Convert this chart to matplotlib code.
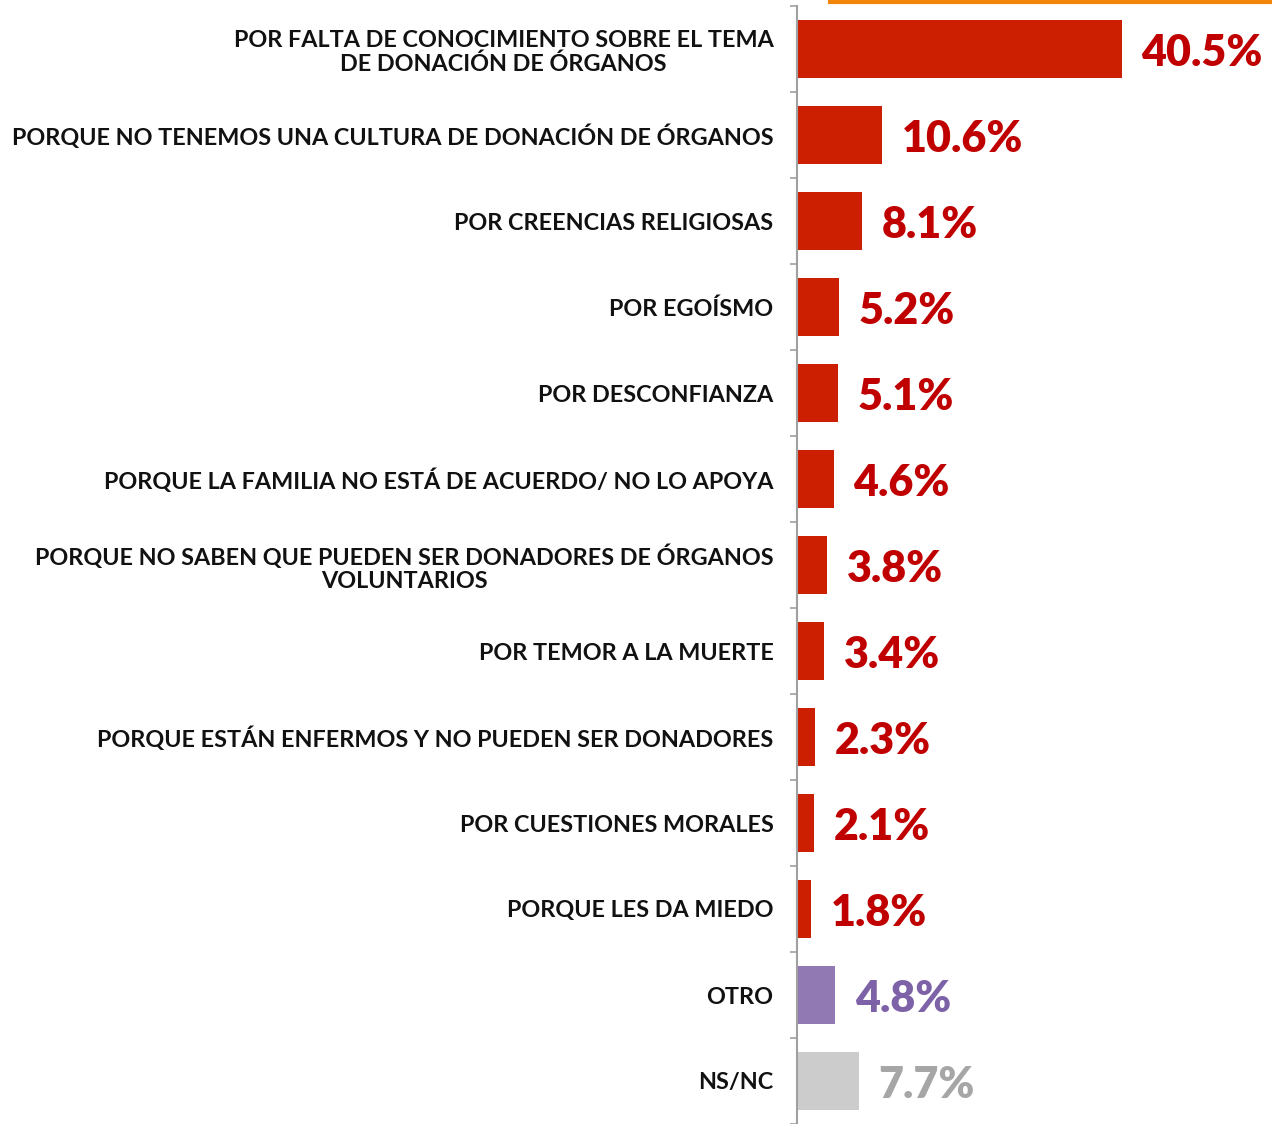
import matplotlib
matplotlib.use("Agg")
import matplotlib.pyplot as plt
from matplotlib.lines import Line2D
import numpy as np

categories = [
    "POR FALTA DE CONOCIMIENTO SOBRE EL TEMA\nDE DONACIÓN DE ÓRGANOS",
    "PORQUE NO TENEMOS UNA CULTURA DE DONACIÓN DE ÓRGANOS",
    "POR CREENCIAS RELIGIOSAS",
    "POR EGOÍSMO",
    "POR DESCONFIANZA",
    "PORQUE LA FAMILIA NO ESTÁ DE ACUERDO/ NO LO APOYA",
    "PORQUE NO SABEN QUE PUEDEN SER DONADORES DE ÓRGANOS\nVOLUNTARIOS",
    "POR TEMOR A LA MUERTE",
    "PORQUE ESTÁN ENFERMOS Y NO PUEDEN SER DONADORES",
    "POR CUESTIONES MORALES",
    "PORQUE LES DA MIEDO",
    "OTRO",
    "NS/NC",
]
values = [40.5, 10.6, 8.1, 5.2, 5.1, 4.6, 3.8, 3.4, 2.3, 2.1, 1.8, 4.8, 7.7]
value_labels = ["40.5%", "10.6%", "8.1%", "5.2%", "5.1%", "4.6%", "3.8%",
                "3.4%", "2.3%", "2.1%", "1.8%", "4.8%", "7.7%"]

bar_colors = ["#CC1E00"] * 11 + ["#9179B3", "#CCCCCC"]
text_colors = ["#C00000"] * 11 + ["#7E62A8", "#A6A6A6"]

font = ["Lato", "DejaVu Sans"]

fig = plt.figure(figsize=(12.72, 11.24), dpi=100)
W, H = 1272, 1124
ax = fig.add_axes([797 / W, 0.0, (W - 797) / W, (H - 6) / H])

y = np.arange(len(categories))
ax.barh(y, values, height=0.67, color=bar_colors)
ax.set_ylim(len(categories) - 0.5, -0.5)
ax.set_xlim(0, (W - 797) / 8.02)

for yi, v, lab, c in zip(y, values, value_labels, text_colors):
    ax.annotate(lab, (v, yi), xytext=(14, -3), textcoords="offset points",
                ha="left", va="center", fontsize=31, fontweight="heavy",
                color=c, family=font)

ax.set_yticks(y)
ax.set_yticklabels(categories, fontsize=16.8, fontweight="bold",
                   family=font, multialignment="center", color="#111111",
                   linespacing=1.15)
ax.tick_params(axis="y", which="major", length=0, pad=17)
ax.set_yticks(np.arange(-0.5, len(categories), 1.0), minor=True)
ax.tick_params(axis="y", which="minor", length=5, width=1.2, color="#A0A0A0")
ax.set_xticks([])

for s in ["top", "right", "bottom"]:
    ax.spines[s].set_visible(False)
ax.spines["left"].set_color("#A0A0A0")
ax.spines["left"].set_linewidth(1.5)

# orange decorative line at top
fig.add_artist(Line2D([830 / W, 1.0], [1 - 1.5 / H, 1 - 1.5 / H],
                      color="#F0850A", linewidth=3, transform=fig.transFigure))

fig.savefig("out.png", dpi=100)
